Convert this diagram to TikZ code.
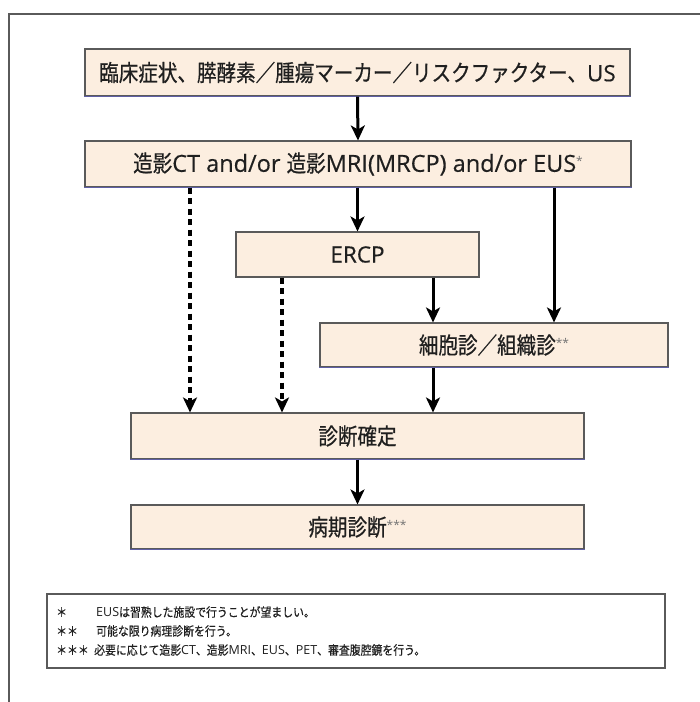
\documentclass[tikz,border=0pt]{standalone}
\usepackage{fontspec}
\setmainfont{Noto Sans CJK JP}[FakeStretch=0.85, FakeBold=0.6]
\newfontfamily\latf{Open Sans}[FakeBold=0.4]
\newfontfamily\notejp{Noto Sans CJK JP}[FakeStretch=0.87, FakeBold=0.3]
\newfontfamily\notelat{Open Sans}
\usetikzlibrary{arrows.meta}
\definecolor{peach}{RGB}{252,238,224}
\definecolor{edge}{RGB}{90,90,90}
\definecolor{bluedge}{RGB}{95,95,165}
\definecolor{stargray}{RGB}{115,115,115}
\newcommand{\lx}[1]{{\latf\fontsize{22.5pt}{26pt}\selectfont #1}}
\newcommand{\lxb}[1]{{\latf\fontsize{23.5pt}{26pt}\selectfont #1}}
\newcommand{\nl}[1]{{\notelat #1}}
\newcommand{\fstar}[1]{\raisebox{0.5ex}{\notelat\fontsize{12pt}{12pt}\selectfont\color{stargray}#1}}
\begin{document}
\begin{tikzpicture}[x=1pt,y=-1pt,
  flowbox/.style={draw=edge, line width=1.1pt, fill=peach, inner sep=0pt, font=\fontsize{23pt}{26pt}\selectfont, text=black!88},
  arr/.style={line width=3pt, -{Stealth[length=15pt,width=14pt,inset=4pt]}},
  darr/.style={line width=4.5pt, dash pattern=on 6pt off 4.5pt, -{Stealth[length=15pt,width=14pt,inset=4pt]}},
  notetext/.style={anchor=west, inner sep=0pt, font=\notejp\fontsize{12.5pt}{14pt}\selectfont, text=black!88}]
\useasboundingbox (0,0) rectangle (700,702);
\fill[white] (0,0) rectangle (700,702);
% outer frame
\draw[edge, line width=1.2pt] (9,702) -- (9,14) -- (700,14);
% boxes
\node[flowbox, minimum width=545pt, minimum height=47pt] (b1) at (357.5,72.5) {臨床症状、膵酵素／腫瘍マーカー／リスクファクター、\lx{US}};
\node[flowbox, minimum width=546pt, minimum height=46pt] (b2) at (358,164) {造影\lxb{CT and/or }造影\lxb{MRI(MRCP) and/or EUS}\fstar{*}};
\node[flowbox, minimum width=243pt, minimum height=45pt] (b3) at (357.5,254.5) {\lx{ERCP}};
\node[flowbox, minimum width=348pt, minimum height=44pt] (b4) at (494,345) {細胞診／組織診\fstar{**}};
\node[flowbox, minimum width=453pt, minimum height=46pt] (b5) at (357.5,436) {診断確定};
\node[flowbox, minimum width=453pt, minimum height=44pt] (b6) at (357.5,527) {病期診断\fstar{***}};
% bluish bottom edges
\foreach \n in {b1,b2,b4,b5,b6}{\draw[bluedge, line width=1.1pt] (\n.south west) -- (\n.south east);}
% x positions
\coordinate (xa) at (190,0);
\coordinate (xb) at (282,0);
\coordinate (xc) at (433,0);
\coordinate (xd) at (554,0);
% connectors
\draw[arr] (b1.south) -- (b2.north);
\draw[arr] (b2.south -| b3.north) -- (b3.north);
\draw[arr] (b2.south -| xd) -- (b4.north -| xd);
\draw[darr] (b2.south -| xa) -- (b5.north -| xa);
\draw[darr] (b3.south -| xb) -- (b5.north -| xb);
\draw[arr] (b3.south -| xc) -- (b4.north -| xc);
\draw[arr] (b4.south -| xc) -- (b5.north -| xc);
\draw[arr] (b5.south) -- (b6.north);
% notes
\node[draw=edge, line width=1.1pt, fill=white, minimum width=618pt, minimum height=74pt, inner sep=0pt] (nb) at (356,631) {};
\node[notetext] (s1) at (56,612) {＊};
\node[notetext] (s2) at (56,631) {＊＊};
\node[notetext] (s3) at (56,650) {＊＊＊};
\node[notetext] (t1) at (96,612) {\nl{EUS}は習熟した施設で行うことが望ましい。};
\node[notetext] (t2) at (96,631) {可能な限り病理診断を行う。};
\node[notetext] (t3) at (94,650) {必要に応じて造影\nl{CT}、造影\nl{MRI}、\nl{EUS}、\nl{PET}、審査腹腔鏡を行う。};
\end{tikzpicture}
\end{document}
